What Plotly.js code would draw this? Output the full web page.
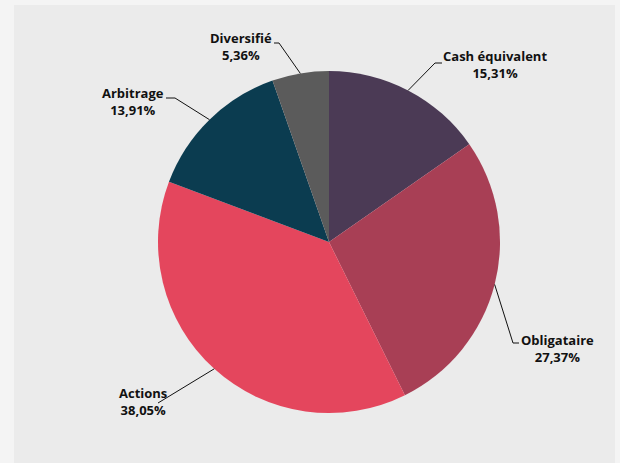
<!DOCTYPE html>
<html>
<head>
<meta charset="utf-8">
<script src="https://cdn.plot.ly/plotly-3.0.1.min.js"></script>
<style>html,body{margin:0;padding:0;background:#f4f4f4;}#chart{width:620px;height:463px;}</style>
</head>
<body>
<div id="chart"></div>
<script>
// ---- data ----
const categories = ["Cash équivalent", "Obligataire", "Actions", "Arbitrage", "Diversifié"];
const values = [15.31, 27.37, 38.05, 13.91, 5.36];
const percentLabels = ["15,31%", "27,37%", "38,05%", "13,91%", "5,36%"];
const colors = ["#4b3a55", "#a83f55", "#e4465d", "#0b3c50", "#5b5b5b"];

// ---- layout geometry (pixels) ----
const W = 620, H = 463;
const M = {l: 14, r: 5, t: 5, b: 0};
const PW = W - M.l - M.r, PH = H - M.t - M.b;
const CX = 329, CY = 242, R = 171;
function px(x, y) { return [(x - M.l) / PW, (H - M.b - y) / PH]; }

// leader line waypoints (after the slice edge) and label block centres
const leader = [
  [[435, 63], [442, 63]],
  [[513, 343], [519, 343]],
  [[158, 403]],
  [[175, 98], [166, 98]],
  [[279, 43], [274, 43]]
];
const labelPos = [
  {x: 494.5, y: 64},
  {x: 557, y: 348},
  {x: 143, y: 401},
  {x: 133, y: 101},
  {x: 240.5, y: 46.5}
];

const total = values.reduce((a, b) => a + b, 0);
const shapes = [{type: 'rect', xref: 'paper', yref: 'paper', x0: 0, x1: 1, y0: 0, y1: 1,
  fillcolor: '#ebebeb', line: {width: 0}, layer: 'below'}];
const annotations = [];
const font = {family: 'Open Sans, sans-serif', size: 13, color: '#111'};
let cum = 0;
values.forEach((v, i) => {
  const mid = (cum + v / 2) / total * 2 * Math.PI;
  cum += v;
  const ex = CX + R * Math.sin(mid), ey = CY - R * Math.cos(mid);
  const pts = [[ex, ey]].concat(leader[i]).map(p => px(p[0], p[1]));
  const path = 'M' + pts.map(p => p[0] + ',' + p[1]).join(' L');
  shapes.push({type: 'path', xref: 'paper', yref: 'paper', path: path, line: {color: '#111', width: 1}});
  const a = px(labelPos[i].x, labelPos[i].y);
  annotations.push({xref: 'paper', yref: 'paper', x: a[0], y: a[1], xanchor: 'center', yanchor: 'middle',
    align: 'center', text: '<b>' + categories[i] + '</b><br><b>' + percentLabels[i] + '</b>',
    showarrow: false, font: font});
});

const d0 = px(CX - R, CY + R), d1 = px(CX + R, CY - R);
const trace = {
  type: 'pie',
  labels: categories,
  values: values,
  marker: {colors: colors, line: {width: 0}},
  sort: false,
  direction: 'clockwise',
  rotation: 0,
  textinfo: 'none',
  hoverinfo: 'label+percent',
  domain: {x: [d0[0], d1[0]], y: [d0[1], d1[1]]}
};

const layout = {
  width: W, height: H,
  margin: M,
  paper_bgcolor: '#f4f4f4',
  plot_bgcolor: '#ebebeb',
  showlegend: false,
  shapes: shapes,
  annotations: annotations
};
Plotly.newPlot('chart', [trace], layout, {displayModeBar: false, staticPlot: true});
</script>
</body>
</html>
